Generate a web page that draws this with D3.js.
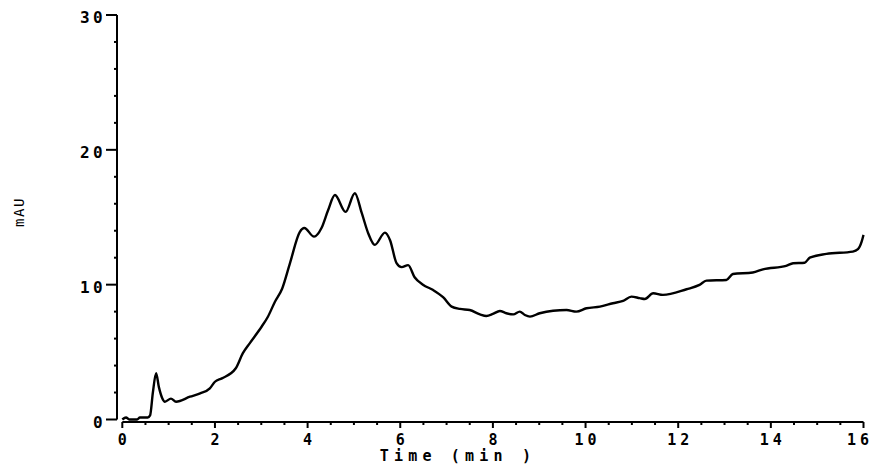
<!DOCTYPE html>
<html>
<head>
<meta charset="utf-8">
<script src="https://cdn.jsdelivr.net/npm/d3@7"></script>
<style>
  body { margin: 0; background: #fff; }
  text { font-family: "DejaVu Sans Mono", monospace; font-weight: bold; fill: #000; }
</style>
</head>
<body>
<svg id="chart"></svg>
<script>
// time (min)
const times = [0, 0.08, 0.15, 0.32, 0.38, 0.55, 0.6, 0.66, 0.73, 0.79, 0.86, 0.92, 1.05, 1.16, 1.46, 1.68,
  1.89, 2.0, 2.15, 2.45, 2.6, 2.75, 3.01, 3.14, 3.29, 3.45, 3.62, 3.83, 3.93, 4.14, 4.3, 4.44, 4.59,
  4.82, 5.02, 5.17, 5.31, 5.45, 5.67, 5.78, 5.92, 6.03, 6.17, 6.31, 6.49, 6.71, 6.93, 7.11, 7.29, 7.5,
  7.72, 7.86, 8.0, 8.15, 8.29, 8.44, 8.58, 8.69, 8.8, 9.01, 9.3, 9.59, 9.8, 10.02, 10.31, 10.59, 10.81,
  10.99, 11.17, 11.28, 11.46, 11.67, 12.18, 12.46, 12.61, 13.04, 13.18, 13.61, 13.83, 14.33, 14.48,
  14.73, 14.84, 15.2, 15.77, 15.88, 15.96, 16.0];
// absorbance (mAU)
const mau = [0, 0.15, 0, 0, 0.15, 0.15, 0.3, 2.0, 3.43, 2.4, 1.6, 1.32, 1.55, 1.32, 1.69, 1.94,
  2.31, 2.8, 3.05, 3.8, 4.9, 5.65, 6.9, 7.6, 8.7, 9.7, 11.6, 13.9, 14.2, 13.56, 14.2, 15.5, 16.65,
  15.4, 16.78, 15.3, 13.8, 12.95, 13.86, 13.3, 11.6, 11.3, 11.45, 10.55, 10.0, 9.6, 9.05, 8.37, 8.2, 8.12,
  7.8, 7.68, 7.83, 8.05, 7.88, 7.8, 8.0, 7.75, 7.63, 7.88, 8.07, 8.12, 8.0, 8.25, 8.37, 8.62, 8.79,
  9.11, 9.0, 8.94, 9.36, 9.24, 9.66, 9.98, 10.3, 10.35, 10.79, 10.9, 11.14, 11.39, 11.59,
  11.63, 12.0, 12.28, 12.45, 12.63, 13.19, 13.69];

const xTicks = [0, 2, 4, 6, 8, 10, 12, 14, 16];
const yTicks = [0, 10, 20, 30];

const width = 876, height = 465;
const svg = d3.select('#chart').attr('width', width).attr('height', height);

const x = d3.scaleLinear().domain([0, 16]).range([122.3, 863.5]);
const y = d3.scaleLinear().domain([0, 30]).range([419.5, 15]);

const xAxisY = 422;
const yAxisX = 117;

// x axis
const xAxis = svg.append('g');
xAxis.append('line')
  .attr('x1', x(0)).attr('x2', x(16))
  .attr('y1', xAxisY).attr('y2', xAxisY)
  .attr('stroke', '#000').attr('stroke-width', 2);
xAxis.selectAll('.xminor')
  .data(d3.range(0, 16.01, 0.5))
  .enter().append('line')
  .attr('x1', d => x(d)).attr('x2', d => x(d))
  .attr('y1', xAxisY).attr('y2', d => xAxisY + (d % 2 === 0 ? 6 : 3))
  .attr('stroke', '#000').attr('stroke-width', 2);
xAxis.selectAll('.xlab')
  .data(xTicks)
  .enter().append('text')
  .attr('x', d => Math.min(x(d) + 2, 860))
  .attr('y', 444.5)
  .attr('text-anchor', 'middle')
  .style('font-size', '15px')
  .style('letter-spacing', '4px')
  .text(d => d);
xAxis.append('text')
  .attr('x', 458)
  .attr('y', 461)
  .attr('text-anchor', 'middle')
  .style('font-size', '15px')
  .style('letter-spacing', '5.2px')
  .text('Time (min )');

// y axis
const yAxis = svg.append('g');
yAxis.append('line')
  .attr('x1', yAxisX).attr('x2', yAxisX)
  .attr('y1', y(30)).attr('y2', y(0))
  .attr('stroke', '#000').attr('stroke-width', 2);
yAxis.selectAll('.yminor')
  .data(d3.range(0, 30.01, 2))
  .enter().append('line')
  .attr('x1', d => yAxisX - (d % 10 === 0 ? 11 : 3)).attr('x2', yAxisX)
  .attr('y1', d => y(d)).attr('y2', d => y(d))
  .attr('stroke', '#000').attr('stroke-width', 2);
yAxis.selectAll('.ylab')
  .data(yTicks)
  .enter().append('text')
  .attr('x', 106)
  .attr('y', d => y(d) + 8)
  .attr('text-anchor', 'end')
  .style('font-size', '16px')
  .style('letter-spacing', '3.4px')
  .text(d => d);
svg.append('text')
  .attr('transform', 'translate(24,212) rotate(-90)')
  .attr('text-anchor', 'middle')
  .style('font-size', '14px')
  .style('font-weight', 'normal')
  .style('letter-spacing', '1.5px')
  .text('mAU');

// trace
const points = times.map((t, i) => [t, mau[i]]);
const line = d3.line()
  .x(d => x(d[0]))
  .y(d => y(d[1]))
  .curve(d3.curveMonotoneX);
svg.append('path')
  .datum(points)
  .attr('d', line)
  .attr('fill', 'none')
  .attr('stroke', '#000')
  .attr('stroke-width', 2.4)
  .attr('stroke-linejoin', 'round');
</script>
</body>
</html>
